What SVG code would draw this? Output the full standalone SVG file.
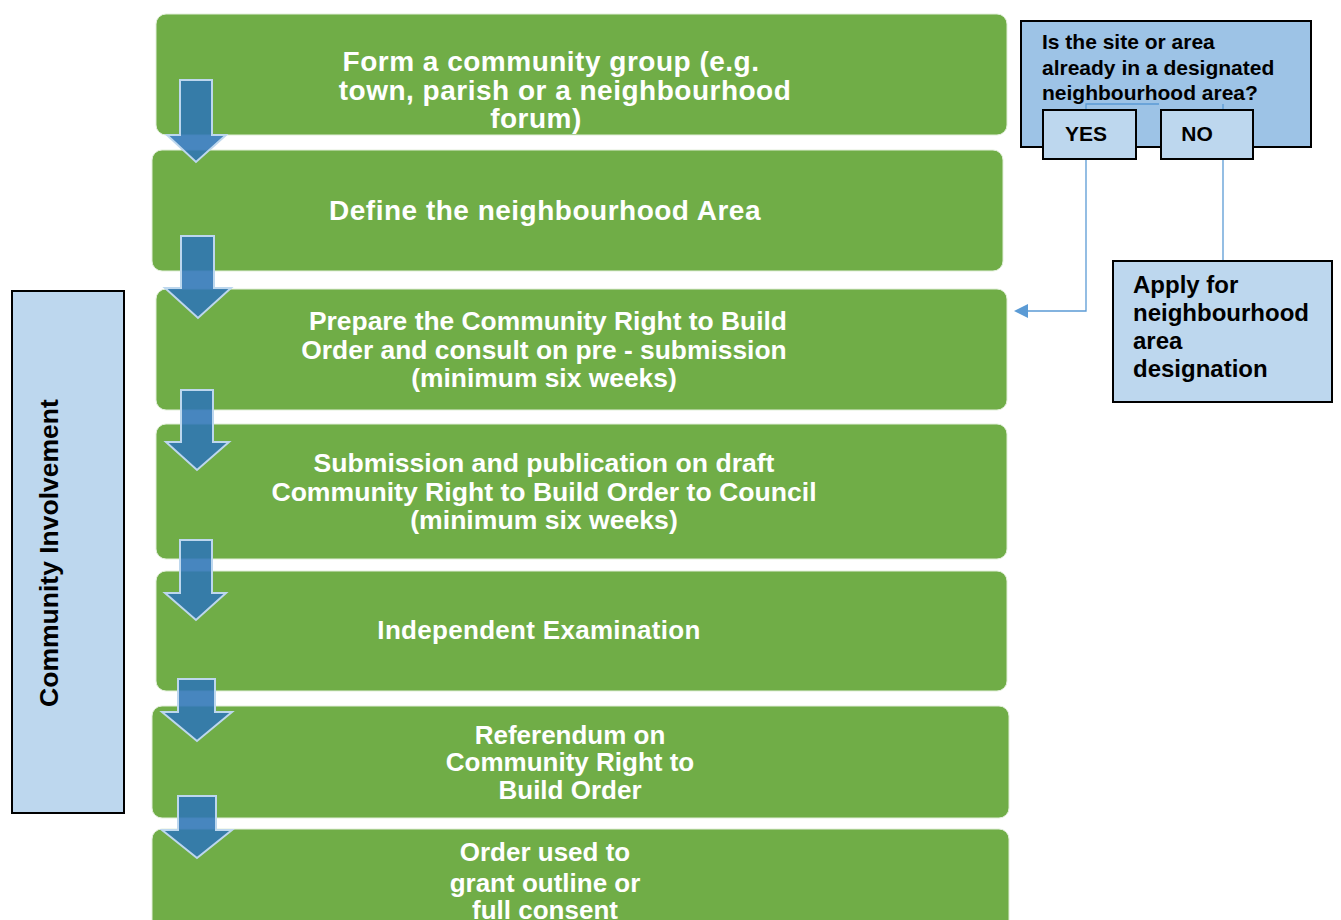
<svg xmlns="http://www.w3.org/2000/svg" width="1341" height="920" viewBox="0 0 1341 920">
<style>
.step{fill:#70AD47;stroke:#E2EFDA;stroke-width:1}
.wt{font-family:"Liberation Sans",Arial,sans-serif;font-weight:bold;fill:#FFFFFF;text-anchor:middle}
.bt{font-family:"Liberation Sans",Arial,sans-serif;font-weight:bold;fill:#000000}
.arr{fill:#2E75B6;fill-opacity:0.88;stroke:#BDD7EE;stroke-width:2;stroke-linejoin:miter}
.lb{fill:#BDD7EE;stroke:#000000;stroke-width:2}
.conn{fill:none;stroke:#5B9BD5;stroke-width:1.3}
</style>
<rect width="1341" height="920" fill="#FFFFFF"/>
<g id="step1"><rect class="step" x="156" y="14" width="851" height="121" rx="10"/>
<text class="wt" font-size="28" letter-spacing="0.5"><tspan x="551" y="71">Form a community group (e.g.</tspan><tspan x="565" y="100">town, parish or a neighbourhood</tspan><tspan x="536" y="128">forum)</tspan></text></g>
<g id="step2"><rect class="step" x="152" y="150" width="851" height="121" rx="10"/>
<text class="wt" font-size="28" letter-spacing="0.5" x="545" y="220">Define the neighbourhood Area</text></g>
<g id="step3"><rect class="step" x="156" y="289" width="851" height="121" rx="10"/>
<text class="wt" font-size="26.4"><tspan x="548" y="330">Prepare the Community Right to Build</tspan><tspan x="544" y="359">Order and consult on pre - submission</tspan><tspan x="544" y="387">(minimum six weeks)</tspan></text></g>
<g id="step4"><rect class="step" x="156" y="424" width="851" height="135" rx="10"/>
<text class="wt" font-size="26.6"><tspan x="544" y="472">Submission and publication on draft</tspan><tspan x="544" y="501">Community Right to Build Order to Council</tspan><tspan x="544" y="529">(minimum six weeks)</tspan></text></g>
<g id="step5"><rect class="step" x="156" y="571" width="851" height="120" rx="10"/>
<text class="wt" font-size="26" letter-spacing="0.3" x="539" y="639">Independent Examination</text></g>
<g id="step6"><rect class="step" x="152" y="706" width="857" height="112" rx="10"/>
<text class="wt" font-size="26"><tspan x="570" y="744">Referendum on</tspan><tspan x="570" y="771">Community Right to</tspan><tspan x="570" y="799">Build Order</tspan></text></g>
<g id="step7"><rect class="step" x="152" y="829" width="857" height="110" rx="10"/>
<text class="wt" font-size="26"><tspan x="545" y="861">Order used to</tspan><tspan x="545" y="892">grant outline or</tspan><tspan x="545" y="919">full consent</tspan></text></g>
<g id="arrows">
<polygon class="arr" points="180,80 212,80 212,135 226,135 196,162 167,135 180,135"/>
<polygon class="arr" points="181,236 214,236 214,288 231,288 198,318 165,288 181,288"/>
<polygon class="arr" points="181,390 213,390 213,442 229,442 197,470 166,442 181,442"/>
<polygon class="arr" points="180,540 212,540 212,593 226,593 196,620 165,593 180,593"/>
<polygon class="arr" points="178,679 215,679 215,712 232,712 197,741 162,712 178,712"/>
<polygon class="arr" points="178,796 216,796 216,830 232,830 197,858 162,830 178,830"/>
</g>
<g id="involvement"><rect class="lb" x="12" y="291" width="112" height="522"/>
<text class="bt" font-size="26.5" text-anchor="middle" transform="translate(58,553) rotate(-90)">Community Involvement</text></g>
<g id="question"><rect x="1021" y="21" width="290" height="126" fill="#9DC3E6" stroke="#000000" stroke-width="2"/>
<text class="bt" font-size="21"><tspan x="1042" y="49">Is the site or area</tspan><tspan x="1042" y="75">already in a designated</tspan><tspan x="1042" y="100">neighbourhood area?</tspan></text></g>
<g id="connectors">
<polyline class="conn" points="1159,104 1086,104 1086,110"/>
<line class="conn" x1="1223" y1="104" x2="1223" y2="131"/>
<polyline class="conn" points="1086,159 1086,311 1027,311"/>
<polygon points="1014,311 1028,304 1028,318" fill="#5B9BD5"/>
<line class="conn" x1="1223" y1="159" x2="1223" y2="261"/>
</g>
<g id="yes"><rect class="lb" x="1043" y="110" width="93" height="49"/>
<text class="bt" font-size="21" x="1086" y="141" text-anchor="middle">YES</text></g>
<g id="no"><rect class="lb" x="1161" y="110" width="92" height="49"/>
<text class="bt" font-size="21" x="1197" y="141" text-anchor="middle">NO</text></g>
<g id="apply"><rect class="lb" x="1113" y="261" width="219" height="141" stroke-width="1.5"/>
<text class="bt" font-size="24"><tspan x="1133" y="293">Apply for</tspan><tspan x="1133" y="321">neighbourhood</tspan><tspan x="1133" y="349">area</tspan><tspan x="1133" y="377">designation</tspan></text></g>
</svg>
